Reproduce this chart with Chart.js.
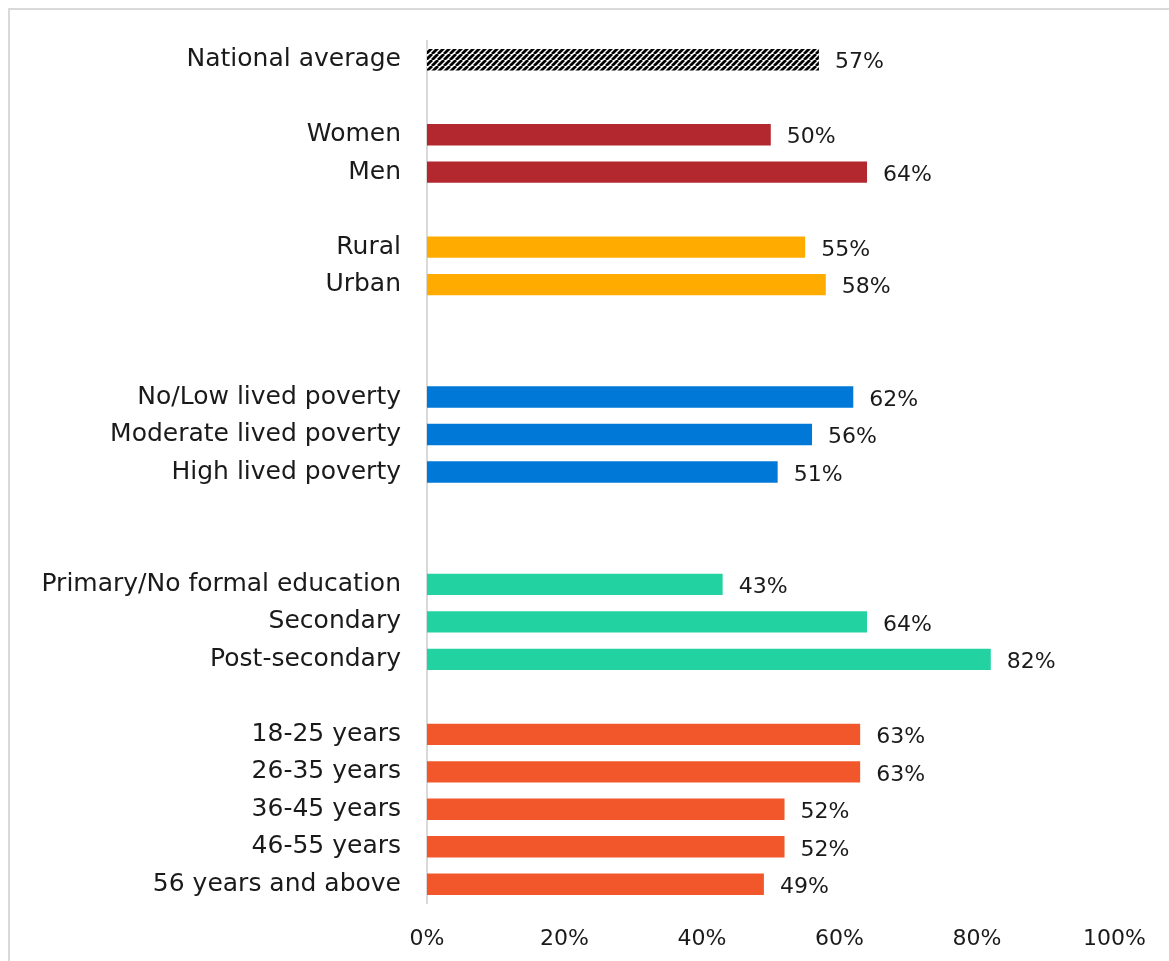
<!DOCTYPE html>
<html>
<head>
<meta charset="utf-8">
<title>Share by group</title>
<script src="https://cdn.jsdelivr.net/npm/chart.js@4/dist/chart.umd.min.js"></script>
<style>
  html, body { margin: 0; padding: 0; background: #fff; }
  #wrap { position: relative; width: 1169px; height: 961px; overflow: hidden; }
  #frame { position: absolute; left: 8px; top: 8px; width: 1200px; height: 1000px;
           border-left: 2px solid #d9d9d9; border-top: 2px solid #d9d9d9; box-sizing: border-box; }
  canvas { position: absolute; left: 0; top: 0; }
</style>
</head>
<body>
<div id="wrap">
  <div id="frame"></div>
  <canvas id="chart" width="1169" height="961"></canvas>
</div>
<script>
// Row labels; empty strings are spacer rows between groups
const categories = [
  'National average', '',
  'Women', 'Men', '',
  'Rural', 'Urban', '', '',
  'No/Low lived poverty', 'Moderate lived poverty', 'High lived poverty', '', '',
  'Primary/No formal education', 'Secondary', 'Post-secondary', '',
  '18-25 years', '26-35 years', '36-45 years', '46-55 years', '56 years and above'
];

// Percentages per row (null for spacer rows)
const values = [
  57, null,
  50, 64, null,
  55, 58, null, null,
  62, 56, 51, null, null,
  43, 64, 82, null,
  63, 63, 52, 52, 49
];

// Group of each row, used to pick its colour
const groups = [
  'national', null,
  'gender', 'gender', null,
  'location', 'location', null, null,
  'poverty', 'poverty', 'poverty', null, null,
  'education', 'education', 'education', null,
  'age', 'age', 'age', 'age', 'age'
];

const groupColors = {
  gender: '#B3282F',
  location: '#FFAB00',
  poverty: '#0078D7',
  education: '#22D3A1',
  age: '#F2572B'
};

const xTicks = [0, 20, 40, 60, 80, 100];

// Diagonal hatch used for the national average bar
function makeHatch() {
  const size = 6;
  const c = document.createElement('canvas');
  c.width = size; c.height = size;
  const g = c.getContext('2d');
  g.fillStyle = '#ffffff';
  g.fillRect(0, 0, size, size);
  g.strokeStyle = '#000000';
  g.lineWidth = 2.8;
  g.beginPath();
  for (let k = -1; k <= 1; k++) {
    g.moveTo(k * size, size);
    g.lineTo(k * size + size, 0);
  }
  g.stroke();
  return document.getElementById('chart').getContext('2d').createPattern(c, 'repeat');
}

const hatch = makeHatch();
const barColors = groups.map(g => g === 'national' ? hatch : (g ? groupColors[g] : 'transparent'));

const FONT = 'Century Gothic, "DejaVu Sans", sans-serif';
const TEXT = '#1a1a1a';

// Writes the value after the end of each bar
const valueLabels = {
  id: 'valueLabels',
  afterDatasetsDraw(chart) {
    const ctx = chart.ctx;
    const meta = chart.getDatasetMeta(0);
    ctx.save();
    ctx.font = '22px ' + FONT;
    ctx.fillStyle = TEXT;
    ctx.textAlign = 'left';
    ctx.textBaseline = 'middle';
    meta.data.forEach((bar, i) => {
      const v = values[i];
      if (v === null) return;
      ctx.fillText(v + '%', bar.x + 16, bar.y + 3);
    });
    ctx.restore();
  }
};

new Chart(document.getElementById('chart'), {
  type: 'bar',
  data: {
    labels: categories,
    datasets: [{
      data: values,
      backgroundColor: barColors,
      borderWidth: 0,
      categoryPercentage: 1,
      barPercentage: 0.57
    }]
  },
  options: {
    indexAxis: 'y',
    responsive: false,
    animation: false,
    devicePixelRatio: 1,
    layout: { padding: { top: 37, right: 54, left: 0, bottom: 0 } },
    plugins: { legend: { display: false }, tooltip: { enabled: false } },
    scales: {
      x: {
        min: 0, max: 100,
        afterBuildTicks(scale) { scale.ticks = xTicks.map(v => ({ value: v })); },
        afterFit(scale) { scale.height = 58; },
        grid: { display: false, drawTicks: false },
        border: { display: false },
        ticks: {
          padding: 23,
          color: TEXT,
          font: { family: FONT, size: 22 },
          callback: v => v + '%'
        }
      },
      y: {
        afterFit(scale) { scale.width = 427; },
        grid: { display: false, drawTicks: false },
        border: { display: true, color: '#d9d9d9', width: 2 },
        ticks: {
          padding: 26,
          autoSkip: false,
          color: TEXT,
          font: { family: FONT, size: 25 }
        }
      }
    }
  },
  plugins: [valueLabels]
});
</script>
</body>
</html>
